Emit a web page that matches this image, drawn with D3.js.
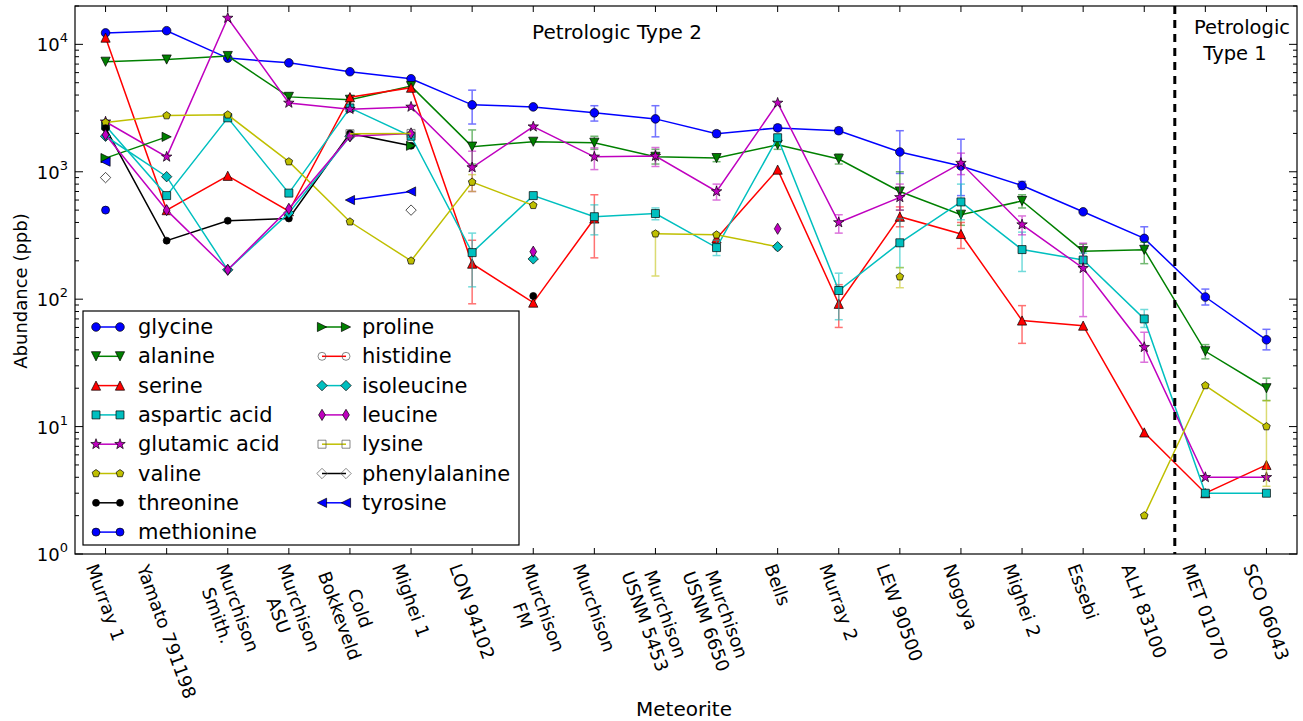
<!DOCTYPE html>
<html><head><meta charset="utf-8">
<script src="https://cdn.jsdelivr.net/npm/d3@7"></script>
<style>body{margin:0;background:#fff} svg{display:block} text{font-family:"DejaVu Sans",sans-serif;fill:#000}</style>
</head><body><svg id="chart" width="1303" height="721"></svg>
<script>
const N = null;
const meteorites = ["Murray 1","Yamato 791198","Murchison\nSmith.","Murchison\nASU","Cold\nBokkeveld","Mighei 1","LON 94102","Murchison\nFM","Murchison","Murchison\nUSNM 5453","Murchison\nUSNM 6650","Bells","Murray 2","LEW 90500","Nogoya","Mighei 2","Essebi","ALH 83100","MET 01070","SCO 06043"];

const glycine      = [12300,12800,7800,7160,6100,5370,3350,3230,2900,2600,1990,2210,2100,1430,1110,780,485,300,104,48];
const alanine      = [7300,7600,8100,3870,3670,4700,1575,1720,1690,1310,1280,1630,1260,700,460,590,238,244,39,20];
const serine       = [11300,500,930,490,3850,4570,190,94,430,N,300,1040,92,444,325,68,62,9,3,5];
const asparticAcid = [2300,650,2650,680,3170,1900,232,650,444,470,254,1850,117,277,580,245,203,70,3,3];
const glutamicAcid = [2470,1310,16100,3470,3100,3230,1080,2260,1310,1330,700,3470,400,630,1170,385,175,42,4,4];
const valine       = [2440,2760,2800,1200,405,200,830,545,N,326,320,258,N,150,N,N,N,2,21,10];
const threonine    = [2200,288,413,430,2000,1600,N,106,N,N,N,N,N,N,N,N,N,N,N,N];
const methionine   = [500,N,N,N,N,N,N,N,N,N,N,N,N,N,N,N,N,N,N,N];
const proline      = [1280,1880,N,N,N,1600,N,N,N,N,N,N,N,N,N,N,N,N,N,N];
const histidine    = [N,N,N,N,N,N,N,N,N,N,N,N,N,N,N,N,N,N,N,N];
const isoleucine   = [1900,915,170,475,1900,N,N,207,N,N,N,258,N,N,N,N,N,N,N,N];
const leucine      = [1950,500,170,512,1900,2000,N,236,N,N,N,357,N,N,N,N,N,N,N,N];
const lysine       = [N,N,N,N,1990,2000,N,N,N,N,N,N,N,N,N,N,N,N,N,N];
const phenylalanine= [900,N,N,N,N,500,N,N,N,N,N,N,N,N,N,N,N,N,N,N];
const tyrosine     = [1200,N,N,N,600,700,N,N,N,N,N,N,N,N,N,N,N,N,N,N];

// error bars [low, high]
const glycineErr  = [N,N,N,N,N,N,[2370,4370],N,[2500,3300],[1880,3300],[1880,2100],[2100,2330],[1990,2220],[970,2100],[650,1800],[730,840],N,[250,370],[90,120],[40,58]];
const alanineErr  = [N,N,N,N,N,N,[1150,2130],N,[1500,1900],[1150,1500],[1200,1350],[1500,1750],[1150,1380],[500,1000],[380,560],[520,660],[210,270],[190,280],[34,44],[16,24]];
const serineErr   = [N,N,N,N,N,N,[92,290],N,[211,660],N,N,N,[60,130],[370,530],[250,400],[45,89],N,N,N,N];
const asparticErr = [N,N,N,N,N,N,[125,330],N,[320,550],[420,520],[220,290],N,[69,160],[177,430],[420,800],[165,336],[180,230],[60,83],N,N];
const glutamicErr = [N,N,N,N,N,N,[700,1450],N,[1040,1540],[1100,1550],[600,800],N,[330,460],[500,800],[950,1400],[320,450],[73,275],[32,55],N,N];
const valineErr   = [N,N,N,N,N,N,[700,950],N,N,[152,340],N,N,N,[123,177],N,N,N,N,N,[3.4,16]];

const yTickExponents = [0,1,2,3,4];
const regionLabels = ["Petrologic Type 2", "Petrologic\nType 1"];

const series = [
  {name:"glycine", v:glycine, err:glycineErr, color:"#0000ff", m:"o", s:4.3, fill:true},
  {name:"alanine", v:alanine, err:alanineErr, color:"#008000", m:"v", s:4.6, fill:true},
  {name:"serine", v:serine, err:serineErr, color:"#ff0000", m:"^", s:4.6, fill:true},
  {name:"aspartic acid", v:asparticAcid, err:asparticErr, color:"#00bfbf", m:"s", s:4, fill:true},
  {name:"glutamic acid", v:glutamicAcid, err:glutamicErr, color:"#bf00bf", m:"*", s:5.5, fill:true},
  {name:"valine", v:valine, err:valineErr, color:"#bfbf00", m:"p", s:4, fill:true},
  {name:"threonine", v:threonine, err:null, color:"#000000", m:"o", s:3.5, fill:true},
  {name:"methionine", v:methionine, err:null, color:"#0000ff", m:"o", s:4, fill:true},
  {name:"proline", v:proline, err:null, color:"#008000", m:">", s:4.6, fill:true},
  {name:"histidine", v:histidine, err:null, color:"#ff0000", m:"o", s:4, fill:false},
  {name:"isoleucine", v:isoleucine, err:null, color:"#00bfbf", m:"D", s:5.2, fill:true},
  {name:"leucine", v:leucine, err:null, color:"#bf00bf", m:"d", s:5.6, fill:true},
  {name:"lysine", v:lysine, err:null, color:"#bfbf00", m:"s", s:4, fill:false},
  {name:"phenylalanine", v:phenylalanine, err:null, color:"#000000", m:"D", s:5.2, fill:false},
  {name:"tyrosine", v:tyrosine, err:null, color:"#0000ff", m:"<", s:4.6, fill:true}
];

function markerPath(t, s){
  const poly = pts => "M" + pts.map(p=>p[0].toFixed(2)+","+p[1].toFixed(2)).join("L") + "Z";
  switch(t){
    case "o": return `M${s},0A${s},${s} 0 1,1 ${-s},0A${s},${s} 0 1,1 ${s},0Z`;
    case "s": return poly([[-s,-s],[s,-s],[s,s],[-s,s]]);
    case "^": return poly([[0,-s],[s,s],[-s,s]]);
    case "v": return poly([[0,s],[s,-s],[-s,-s]]);
    case ">": return poly([[s,0],[-s,-s],[-s,s]]);
    case "<": return poly([[-s,0],[s,-s],[s,s]]);
    case "D": return poly([[0,-s],[s,0],[0,s],[-s,0]]);
    case "d": return poly([[0,-s],[0.6*s,0],[0,s],[-0.6*s,0]]);
    case "p": { const p=[]; for(let i=0;i<5;i++){const a=-Math.PI/2+i*2*Math.PI/5; p.push([s*Math.cos(a), s*Math.sin(a)]);} return poly(p); }
    case "*": { const p=[]; for(let i=0;i<10;i++){const r=i%2?s*0.4:s; const a=-Math.PI/2+i*Math.PI/5; p.push([r*Math.cos(a), r*Math.sin(a)]);} return poly(p); }
  }
}

const svg = d3.select("#chart");
const L = 75, R = 1297, T = 6, B = 554;
const x = d3.scalePoint().domain(meteorites).range([L, R]).padding(0.5);
const y = d3.scaleLog().domain([1, 20000]).range([B, T]);
const step = x.step();

// series
const plot = svg.append("g");
series.forEach(se => {
  const g = plot.append("g");
  const pts = se.v.map((v,i)=>({i, v}));
  if (se.err) {
    se.err.forEach((e,i) => {
      if (!e) return;
      const cx = x(meteorites[i]);
      const eg = g.append("g").attr("stroke", se.color).attr("stroke-width", 1.5).attr("opacity", 0.55);
      eg.append("line").attr("x1",cx).attr("x2",cx).attr("y1",y(e[0])).attr("y2",y(e[1]));
      [e[0],e[1]].forEach(val => eg.append("line").attr("x1",cx-4).attr("x2",cx+4).attr("y1",y(val)).attr("y2",y(val)));
    });
  }
  const line = d3.line().defined(d=>d.v!=null).x(d=>x(meteorites[d.i])).y(d=>y(d.v));
  g.append("path").attr("d", line(pts)).attr("fill","none").attr("stroke", se.color).attr("stroke-width",1.5);
  g.selectAll("path.mk").data(pts.filter(d=>d.v!=null)).join("path").attr("class","mk")
    .attr("d", markerPath(se.m, se.s))
    .attr("transform", d=>`translate(${x(meteorites[d.i])},${y(d.v)})`)
    .attr("fill", se.fill ? se.color : (se.name === "phenylalanine" ? "#fff" : "none"))
    .attr("stroke", se.fill || se.name === "phenylalanine" ? "#000" : "#555").attr("stroke-width", 0.7);
});

// dashed separator
const sepX = x(meteorites[17]) + step/2;
svg.append("line").attr("x1",sepX).attr("x2",sepX).attr("y1",T).attr("y2",B)
  .attr("stroke","#000").attr("stroke-width",3).attr("stroke-dasharray","8,6");

// frame
svg.append("rect").attr("x",L).attr("y",T).attr("width",R-L).attr("height",B-T)
  .attr("fill","none").attr("stroke","#000").attr("stroke-width",1.2);

// y ticks
const ax = svg.append("g").attr("stroke","#000");
yTickExponents.forEach(e => {
  const v = Math.pow(10,e), yy = y(v);
  ax.append("line").attr("x1",L).attr("x2",L+8).attr("y1",yy).attr("y2",yy).attr("stroke-width",1);
  ax.append("line").attr("x1",R).attr("x2",R-8).attr("y1",yy).attr("y2",yy).attr("stroke-width",1);
  for (let k=2;k<=9;k++){
    const mv = k*v; if (mv>20000) break;
    const my = y(mv);
    ax.append("line").attr("x1",L).attr("x2",L+4).attr("y1",my).attr("y2",my).attr("stroke-width",1);
    ax.append("line").attr("x1",R).attr("x2",R-4).attr("y1",my).attr("y2",my).attr("stroke-width",1);
  }
  const t = svg.append("text").attr("x",68).attr("y",yy+7).attr("text-anchor","end").style("font-size","18px");
  t.append("tspan").text("10");
  t.append("tspan").attr("dy",-9).style("font-size","13px").text(String(e));
});

// x ticks
meteorites.forEach(m => {
  const cx = x(m);
  ax.append("line").attr("x1",cx).attr("x2",cx).attr("y1",B).attr("y2",B-6).attr("stroke-width",1);
  ax.append("line").attr("x1",cx).attr("x2",cx).attr("y1",T).attr("y2",T+6).attr("stroke-width",1);
});

// x category labels, rotated 70deg, centered bbox under tick
const ang = 70*Math.PI/180;
meteorites.forEach(m => {
  const lines = m.split("\n");
  const t = svg.append("text").attr("text-anchor","middle").style("font-size","18px");
  lines.forEach((ln,k)=> t.append("tspan").attr("x",0).attr("dy", k===0 ? 0 : "1.2em").text(ln));
  const bb = t.node().getBBox();
  const cx = bb.x + bb.width/2, cy = bb.y + bb.height/2;
  const H = bb.width*Math.sin(ang) + bb.height*Math.cos(ang);
  t.attr("transform", `translate(${x(m)},${B + 7 + H/2}) rotate(70) translate(${-cx},${-cy})`);
});

// axis titles
svg.append("text").attr("x", 684).attr("y", 716).attr("text-anchor","middle").style("font-size","20px").text("Meteorite");
svg.append("text").attr("transform","translate(27,291) rotate(-90)").attr("text-anchor","middle").style("font-size","18px").text("Abundance (ppb)");

// region labels
svg.append("text").attr("x",617).attr("y",39).attr("text-anchor","middle").style("font-size","20px").text(regionLabels[0]);
const rl = regionLabels[1].split("\n");
svg.append("text").attr("x",1242).attr("y",34).attr("text-anchor","middle").style("font-size","19.5px").text(rl[0]);
svg.append("text").attr("x",1235).attr("y",60).attr("text-anchor","middle").style("font-size","19.5px").text(rl[1]);

// legend
const lg = svg.append("g");
lg.append("rect").attr("x",83).attr("y",311).attr("width",436).attr("height",234).attr("fill","#fff").attr("stroke","#000").attr("stroke-width",1.2);
series.forEach((se, i) => {
  const col = i < 8 ? 0 : 1, row = i < 8 ? i : i - 8;
  const x0 = col ? 322 : 96, x1 = col ? 346 : 120, tx = col ? 362 : 138;
  const yy = 327 + row*29.3;
  lg.append("line").attr("x1",x0).attr("x2",x1).attr("y1",yy).attr("y2",yy).attr("stroke",se.color).attr("stroke-width",1.5);
  [x0,x1].forEach(px => lg.append("path").attr("d", markerPath(se.m, se.s)).attr("transform",`translate(${px},${yy})`)
     .attr("fill", se.fill ? se.color : "none").attr("stroke", se.fill ? "#000" : "#555").attr("stroke-width",0.7));
  lg.append("text").attr("x",tx).attr("y",yy+7).style("font-size","21px").text(se.name);
});
</script></body></html>
